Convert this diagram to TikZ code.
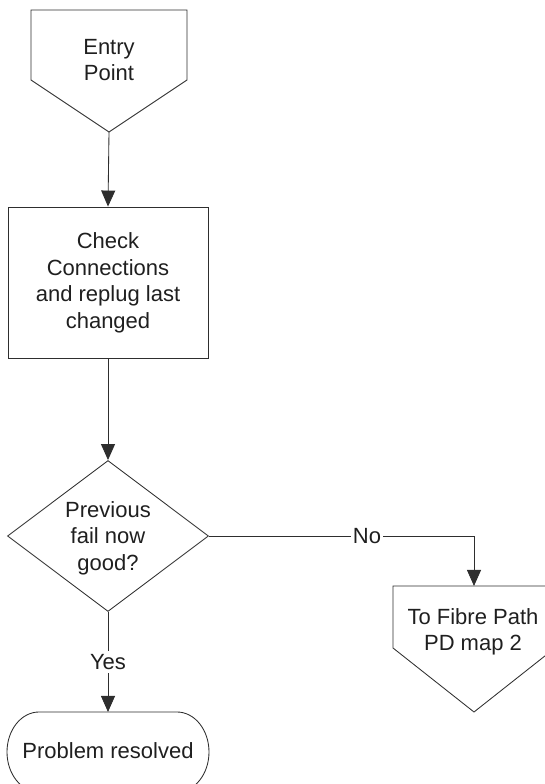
\documentclass[tikz,border=0pt]{standalone}
\usepackage{fontspec}
\setmainfont{Liberation Sans}
\usetikzlibrary{arrows.meta,shapes.geometric}
\begin{document}
\begin{tikzpicture}[x=1pt,y=1pt,
  outline/.style={draw=black!82, line width=0.85pt},
  caption/.style={font=\fontsize{22}{26.5}\selectfont, text=black!88, align=center, inner sep=0pt},
  flow/.style={outline, -{Triangle[length=16pt,width=14pt]}},
  cut/.style={caption, fill=white, inner xsep=2pt, inner ysep=3pt}]
\useasboundingbox (0,0) rectangle (545,784);
\clip (0,0) rectangle (545,784);

% entry connector (off-page pentagon)
\draw[outline] (31,774) -- (187,774) -- (187,704) -- (109,652) -- (31,704) -- cycle;
\coordinate (entry) at (109,652);
\node[caption] (entrytext) at (109,724) {Entry\\Point};

% process box
\node[outline, rectangle, minimum width=200pt, minimum height=151pt, inner sep=0pt] (check) at (108,501.5) {};
\node[caption] (checktext) at (108,501) {Check\\Connections\\and replug last\\changed};

% decision
\node[outline, diamond, minimum width=201pt, minimum height=151pt, inner sep=0pt] (decide) at (108,248) {};
\node[caption] (decidetext) at (108,246) {Previous\\fail now\\good?};

% off-page connector to the next map
\draw[outline] (393,198) -- (555,198) -- (555,136) -- (474,72) -- (393,136) -- cycle;
\coordinate (fibre) at (474,198);
\node[caption] (fibretext) at (473,152) {To Fibre Path\\PD map 2};

% terminator
\draw[outline] (39,72) -- (177,72)
  .. controls (194.7,72) and (209,54.1) .. (209,32)
  .. controls (209,9.9) and (194.7,-8) .. (177,-8)
  -- (39,-8)
  .. controls (21.3,-8) and (7,9.9) .. (7,32)
  .. controls (7,54.1) and (21.3,72) .. (39,72) -- cycle;
\coordinate (done) at (108,72);
\node[caption] (donetext) at (108,33) {Problem resolved};

% connectors
\draw[flow] (entry) -- (check.north);
\draw[flow] (check.south) -- (decide.north);
\coordinate (bend) at (474,248);
\draw[flow] (decide.east) -- (bend) -- (fibre);
\node[cut] (no) at (367,248) {No};
\draw[flow] (decide.south) -- (done);
\node[cut] (yes) at (108,122) {Yes};
\end{tikzpicture}
\end{document}
